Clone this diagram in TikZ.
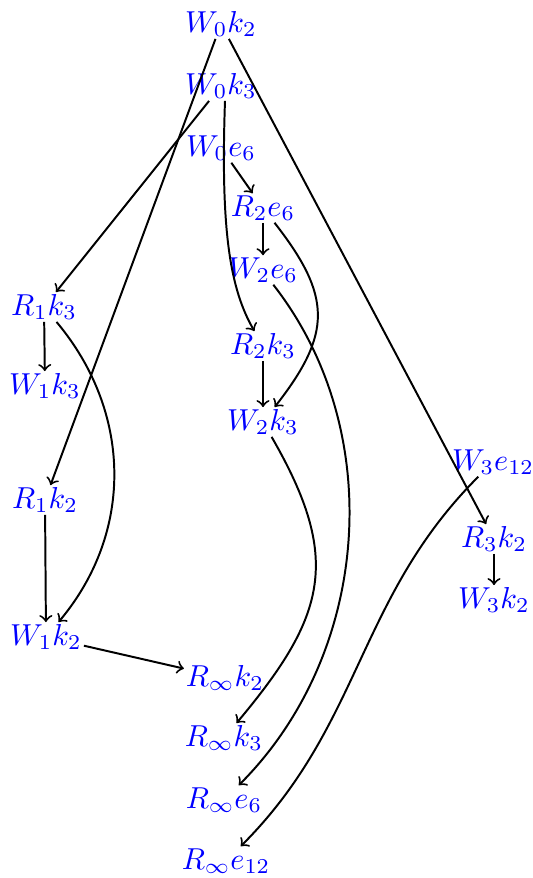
\documentclass[tikz,border=0pt]{standalone}
\begin{document}
\begin{tikzpicture}[x=0.33pt,y=-0.33pt,
  lbl/.style={text=blue,inner sep=0.5pt},
  ar/.style={->,line width=0.65pt}]
\useasboundingbox (0,0) rectangle (532,878);
\node[lbl] (W0k2) at (221,24) {$W_0k_2$};
\node[lbl] (W0k3) at (221,86) {$W_0k_3$};
\node[lbl] (W0e6) at (221,148) {$W_0e_6$};
\node[lbl] (R2e6) at (263,208) {$R_2e_6$};
\node[lbl] (W2e6) at (263,270) {$W_2e_6$};
\node[lbl] (R1k3) at (44,307) {$R_1k_3$};
\node[lbl] (W1k3) at (45,386) {$W_1k_3$};
\node[lbl] (R2k3) at (263,346) {$R_2k_3$};
\node[lbl] (W2k3) at (263,422) {$W_2k_3$};
\node[lbl] (W3e12) at (493,462) {$W_3e_{12}$};
\node[lbl] (R1k2) at (45,500) {$R_1k_2$};
\node[lbl] (R3k2) at (494,539) {$R_3k_2$};
\node[lbl] (W3k2) at (494,600) {$W_3k_2$};
\node[lbl] (W1k2) at (46,637) {$W_1k_2$};
\node[lbl] (Rk2) at (225,678) {$R_\infty k_2$};
\node[lbl] (Rk3) at (224,738) {$R_\infty k_3$};
\node[lbl] (Re6) at (224,800) {$R_\infty e_6$};
\node[lbl] (Re12) at (226,861) {$R_\infty e_{12}$};

\draw[ar] (W0k2) -- (R1k2);
\draw[ar] (W0k2) -- (R3k2);
\draw[ar] (W0k3) -- (R1k3);
\draw[ar] (W0k3.-75) to[out=-92,in=120,out distance=43pt,in distance=16pt] (R2k3);
\draw[ar] (W0e6) -- (R2e6);
\draw[ar] (R2e6) -- (W2e6);
\draw[ar] (R2e6) to[out=-52,in=52,looseness=1.3] (W2k3);
\draw[ar] (W2e6.-55) to[out=-52,in=45,looseness=0.95] (Re6);
\draw[ar] (W2k3) to[out=-60,in=50,looseness=1.25] (Rk3);
\draw[ar] (W3e12) to[out=225,in=45] (Re12);
\draw[ar] (R1k3) -- (W1k3);
\draw[ar] (R1k3) to[out=-50,in=50] (W1k2);
\draw[ar] (R1k2) -- (W1k2);
\draw[ar] (W1k2) -- (Rk2);
\draw[ar] (R2k3) -- (W2k3);
\draw[ar] (R3k2) -- (W3k2);
\end{tikzpicture}
\end{document}
